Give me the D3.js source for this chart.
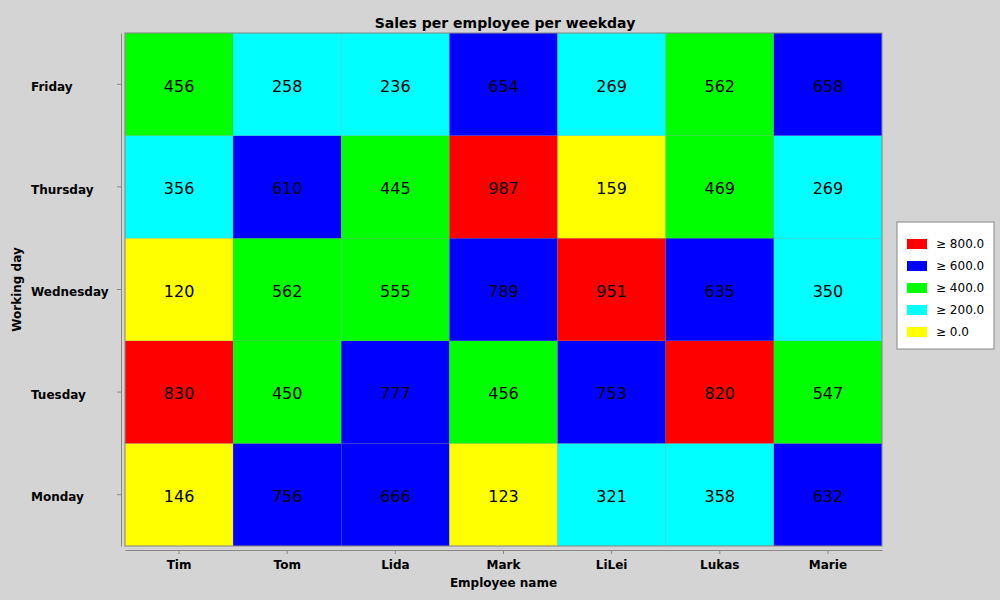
<!DOCTYPE html>
<html><head><meta charset="utf-8">
<script src="https://d3js.org/d3.v7.min.js"></script>
<style>body{margin:0;background:#d4d4d4;} text{font-family:"DejaVu Sans",sans-serif;}</style>
</head><body><svg width="1000" height="600"></svg>
<script>
const employees = ['Tim','Tom','Lida','Mark','LiLei','Lukas','Marie'];
const days = ['Monday','Tuesday','Wednesday','Thursday','Friday'];
// sales[day][employee]
const sales = [
  [146,756,666,123,321,358,632],
  [830,450,777,456,753,820,547],
  [120,562,555,789,951,635,350],
  [356,610,445,987,159,469,269],
  [456,258,236,654,269,562,658]
];
const thresholds = [200,400,600,800];
const binColors = ['#ffff00','#00ffff','#00ff00','#0000ff','#ff0000'];
const legendLabels = ['≥ 800.0','≥ 600.0','≥ 400.0','≥ 200.0','≥ 0.0'];

const svg = d3.select('svg');
const margin = {top: 33, right: 118, bottom: 54, left: 125};
const innerWidth = 1000 - margin.left - margin.right;
const innerHeight = 600 - margin.top - margin.bottom;
const color = d3.scaleThreshold().domain(thresholds).range(binColors);

const xScale = d3.scaleBand().domain(employees).range([0, innerWidth]);
const yScale = d3.scaleBand().domain(days).range([innerHeight, 0]);

const g = svg.append('g').attr('transform', `translate(${margin.left},${margin.top})`);

const cells = [];
sales.forEach((row, i) => row.forEach((v, j) => cells.push({day: days[i], emp: employees[j], v})));

g.selectAll('rect.cell').data(cells).enter().append('rect')
  .attr('class','cell')
  .attr('x', d => xScale(d.emp))
  .attr('y', d => yScale(d.day))
  .attr('width', xScale.bandwidth())
  .attr('height', yScale.bandwidth())
  .attr('fill', d => color(d.v))
  .attr('stroke', 'rgba(128,128,128,0.25)').attr('stroke-width', 0.5);

g.selectAll('text.val').data(cells).enter().append('text')
  .attr('x', d => xScale(d.emp) + xScale.bandwidth()/2)
  .attr('y', d => yScale(d.day) + yScale.bandwidth()/2)
  .attr('text-anchor','middle').attr('dy','0.45em')
  .attr('font-size', 16).attr('fill','#000').text(d => d.v);

g.append('rect').attr('width', innerWidth).attr('height', innerHeight)
  .attr('fill','none').attr('stroke','#888');

const yAxis = g.append('g').attr('transform','translate(-4,0)')
  .call(d3.axisLeft(yScale).tickSize(4).tickSizeOuter(0).tickPadding(6));
const xAxis = g.append('g').attr('transform',`translate(0,${innerHeight + 4})`)
  .call(d3.axisBottom(xScale).tickSize(4).tickSizeOuter(0).tickPadding(6));
[xAxis, yAxis].forEach(a => {
  a.selectAll('.domain, .tick line').attr('stroke','#888');
  a.selectAll('.tick text').attr('font-size', 12).attr('font-weight','bold').attr('fill','#000')
    .style('font-family','"DejaVu Sans",sans-serif');
});
yAxis.selectAll('.tick text').attr('text-anchor','start').attr('x', -90).attr('dy','0.55em');

svg.append('text').attr('x', 505).attr('y', 28).attr('text-anchor','middle')
  .attr('font-size', 14).attr('font-weight','bold').text('Sales per employee per weekday');
svg.append('text').attr('x', margin.left + innerWidth/2).attr('y', 587).attr('text-anchor','middle')
  .attr('font-size', 12).attr('font-weight','bold').text('Employee name');
svg.append('text').attr('transform', `translate(21,${margin.top + innerHeight/2}) rotate(-90)`)
  .attr('text-anchor','middle').attr('font-size', 12).attr('font-weight','bold').text('Working day');

const legend = svg.append('g').attr('transform','translate(897,222)');
legend.append('rect').attr('width', 97).attr('height', 127).attr('fill','#fff').attr('stroke','#888');
const items = legend.selectAll('g.item').data(legendLabels).enter().append('g')
  .attr('transform', (d,i) => `translate(10,${22 + i*22})`);
items.append('rect').attr('width', 20).attr('height', 10).attr('y', -5)
  .attr('fill', (d,i) => binColors[binColors.length - 1 - i]);
items.append('text').attr('x', 29).attr('dy','0.35em').attr('font-size', 12).text(d => d);
</script></body></html>
